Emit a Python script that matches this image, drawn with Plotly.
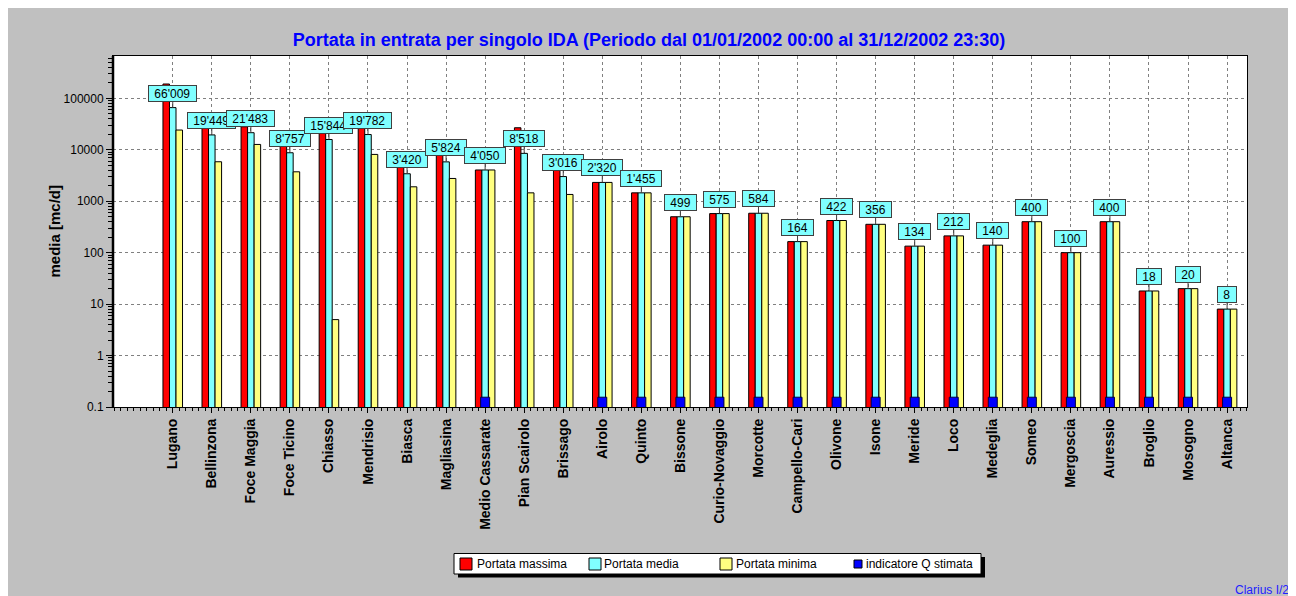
import math
import plotly.graph_objects as go

categories = ["Lugano", "Bellinzona", "Foce Maggia", "Foce Ticino", "Chiasso", "Mendrisio",
              "Biasca", "Magliasina", "Medio Cassarate", "Pian Scairolo", "Brissago", "Airolo",
              "Quinto", "Bissone", "Curio-Novaggio", "Morcotte", "Campello-Cari", "Olivone",
              "Isone", "Meride", "Loco", "Medeglia", "Someo", "Mergoscia", "Auressio",
              "Broglio", "Mosogno", "Altanca"]
portata_massima = [190000, 26000, 28000, 12000, 22000, 28000, 5000, 8000, 4050, 26800, 4500,
                   2320, 1455, 499, 575, 584, 164, 422, 356, 134, 212, 140, 400, 100, 400,
                   18, 20, 8]
portata_media = [66009, 19449, 21483, 8757, 15844, 19782, 3420, 5824, 4050, 8518, 3016,
                 2320, 1455, 499, 575, 584, 164, 422, 356, 134, 212, 140, 400, 100, 400,
                 18, 20, 8]
portata_minima = [24200, 5850, 12700, 3730, 5, 8130, 1907, 2770, 4050, 1455, 1355,
                  2320, 1455, 499, 575, 584, 164, 422, 356, 134, 212, 140, 400, 100, 400,
                  18, 20, 8]
q_stimata = [False, False, False, False, False, False, False, False, True, False, False,
             True, True, True, True, True, True, True, True, True, True, True, True, True,
             True, True, True, True]
indicator_value = 0.155
y_tick_values = [0.1, 1, 10, 100, 1000, 10000, 100000]
y_tick_labels = ["0.1", "1", "10", "100", "1000", "10000", "100000"]
legend_names = ["Portata massima", "Portata media", "Portata minima", "indicatore Q stimata"]
legend_colors = ["#FF0000", "#80FFFF", "#FFFF80", "#0000FF"]

FONT = "Arial, Liberation Sans, sans-serif"
xs = list(range(len(categories)))

# page is offset by the 8px body margin; plot area spans page px 113..1247 x 56..407
def px(p):
    return (p - 113) / 1134

def py(p):
    return (407 - p) / 351

fig = go.Figure()
bw = 0.167
line = dict(color="black", width=1)
fig.add_trace(go.Bar(x=xs, y=portata_massima, name=legend_names[0], width=bw, offset=-1.5 * bw,
                     marker=dict(color=legend_colors[0], line=line)))
fig.add_trace(go.Bar(x=xs, y=portata_media, name=legend_names[1], width=bw, offset=-0.5 * bw,
                     marker=dict(color=legend_colors[1], line=line)))
fig.add_trace(go.Bar(x=xs, y=portata_minima, name=legend_names[2], width=bw, offset=0.5 * bw,
                     marker=dict(color=legend_colors[2], line=line)))
qx = [x for x, q in zip(xs, q_stimata) if q]
qy = [indicator_value for q in q_stimata if q]
fig.add_trace(go.Bar(x=qx, y=qy, name=legend_names[3], width=0.23, offset=-0.115,
                     marker=dict(color=legend_colors[3], line=dict(color="#000040", width=1))))

annotations = []
for x, v in zip(xs, portata_media):
    txt = f"{v:,}".replace(",", "'")
    w = sum(6.67 if c.isdigit() else 2.3 for c in txt) + 9
    annotations.append(dict(x=x, y=math.log10(v), xref="x", yref="y", text=txt, showarrow=True,
                            ax=0, ay=-14.5, arrowhead=0, arrowwidth=1, arrowcolor="#404040",
                            standoff=0, bgcolor="#80FFFF", bordercolor="#404040",
                            borderwidth=1, borderpad=1, width=w, height=13,
                            font=dict(family=FONT, size=12, color="black")))

annotations.append(dict(x=px(54), y=0.5, xref="paper", yref="paper",
                        text="media [mc/d]", textangle=-90, showarrow=False,
                        xanchor="center", yanchor="middle",
                        font=dict(family=FONT, size=15, color="black", weight="bold")))
annotations.append(dict(x=px(1291), y=py(581), xref="paper", yref="paper",
                        text="Clarius I/2", showarrow=False, xanchor="right", yanchor="top",
                        font=dict(family=FONT, size=12, color="#2020FF")))

shapes = [
    # thick left axis
    dict(type="line", xref="paper", yref="paper", x0=0, x1=0, y0=0, y1=1,
         line=dict(color="black", width=2.5)),
    # legend shadow and box
    dict(type="rect", xref="paper", yref="paper", x0=px(458), x1=px(985),
         y0=py(577.5), y1=py(557), fillcolor="black", line=dict(width=0)),
    dict(type="rect", xref="paper", yref="paper", x0=px(454), x1=px(981),
         y0=py(574), y1=py(553.5), fillcolor="white", line=dict(color="black", width=1)),
]
# legend swatches and labels
sw_left = [460, 589, 720, 854]
sw_size = [12, 12, 12, 8]
txt_left = [477, 604, 736, 866]
for name, col, sl, ss, tl in zip(legend_names, legend_colors, sw_left, sw_size, txt_left):
    shapes.append(dict(type="rect", xref="paper", yref="paper", x0=px(sl), x1=px(sl + ss),
                       y0=py(564 + ss / 2), y1=py(564 - ss / 2), fillcolor=col,
                       line=dict(color="black", width=1)))
    annotations.append(dict(x=px(tl - 2), y=py(564), xref="paper", yref="paper", text=name,
                            showarrow=False, xanchor="left", yanchor="middle",
                            font=dict(family=FONT, size=12, color="black")))

fig.update_layout(
    width=1288, height=588,
    margin=dict(l=105, r=49, t=48, b=189),
    paper_bgcolor="#C0C0C0", plot_bgcolor="white",
    barmode="overlay",
    title=dict(text="Portata in entrata per singolo IDA (Periodo dal 01/01/2002 00:00 al 31/12/2002 23:30)",
               x=(649 - 8) / 1288, xref="container", xanchor="center",
               y=1 - (40 - 8) / 588, yref="container", yanchor="middle",
               font=dict(family=FONT, size=18, color="#0000FF", weight="bold")),
    font=dict(family=FONT, size=12, color="black"),
    showlegend=False,
    annotations=annotations,
    shapes=shapes,
)
fig.update_xaxes(type="linear", range=[-1.53, 27.51], tickmode="array", tickvals=xs,
                 ticktext=categories, tickangle=-90,
                 tickfont=dict(family=FONT, size=14, color="black", weight="bold"),
                 showgrid=True, gridcolor="#808080", griddash="3px,3px", gridwidth=1,
                 zeroline=False, showline=True, linecolor="black", linewidth=1, mirror=True,
                 ticks="outside", ticklen=5, tickcolor="black",
                 minor=dict(ticks="outside", ticklen=3, tickcolor="black", dtick=1 / 6,
                            tick0=0, showgrid=False))
fig.update_yaxes(type="log", range=[-1, 5.823], tickmode="array", tickvals=y_tick_values,
                 ticktext=y_tick_labels, tickfont=dict(family=FONT, size=12, color="black"),
                 showgrid=True, gridcolor="#808080", griddash="3px,3px", gridwidth=1,
                 zeroline=False, showline=True, linecolor="black", linewidth=1, mirror=True,
                 ticks="outside", ticklen=6, tickcolor="black",
                 minor=dict(ticks="outside", ticklen=4, tickcolor="black", dtick="D1",
                            showgrid=False))

fig.write_html("out.html")
